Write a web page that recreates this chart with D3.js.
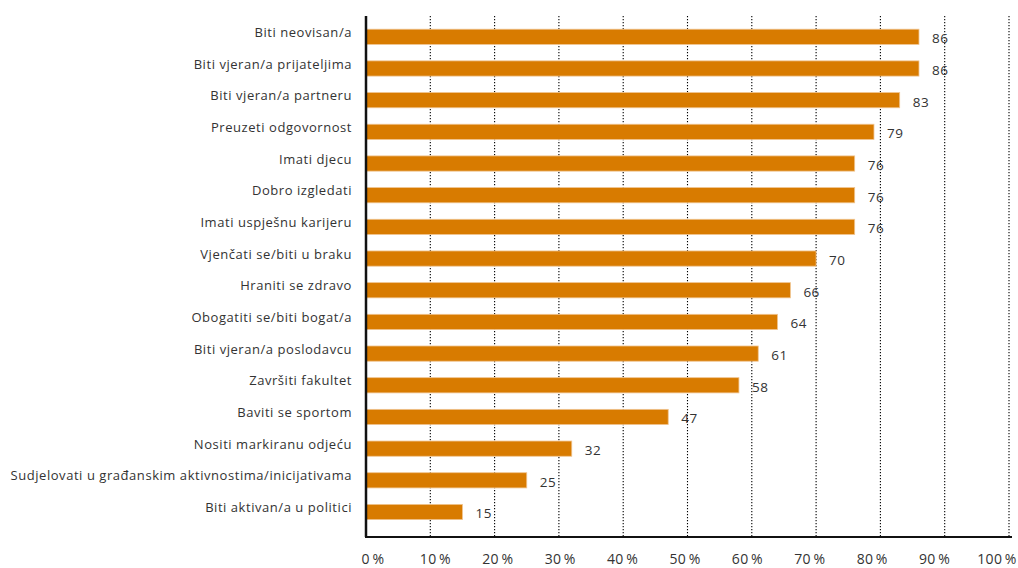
<!DOCTYPE html>
<html>
<head>
<meta charset="utf-8">
<script src="https://cdn.jsdelivr.net/npm/d3@7"></script>
<style>
  body { margin: 0; background: #fff; }
  text { font-family: "Open Sans", sans-serif; fill: #333; }
</style>
</head>
<body>
<svg id="chart" width="1018" height="568"></svg>
<script>
"use strict";

var categories = [
  "Biti neovisan/a",
  "Biti vjeran/a prijateljima",
  "Biti vjeran/a partneru",
  "Preuzeti odgovornost",
  "Imati djecu",
  "Dobro izgledati",
  "Imati uspješnu karijeru",
  "Vjenčati se/biti u braku",
  "Hraniti se zdravo",
  "Obogatiti se/biti bogat/a",
  "Biti vjeran/a poslodavcu",
  "Završiti fakultet",
  "Baviti se sportom",
  "Nositi markiranu odjeću",
  "Sudjelovati u građanskim aktivnostima/inicijativama",
  "Biti aktivan/a u politici"
];
var values = [86, 86, 83, 79, 76, 76, 76, 70, 66, 64, 61, 58, 47, 32, 25, 15];
var tickValues = [0, 10, 20, 30, 40, 50, 60, 70, 80, 90, 100];

var svg = d3.select("#chart");
var config = { left: 366, right: 1009, top: 16, bottom: 537, barColor: "#d87b00" };

var x = d3.scaleLinear().domain([0, 100]).range([config.left, config.right]);
var y = d3.scaleBand().domain(categories).range([29.2, 519.6]).paddingInner(0.52).paddingOuter(0);
// tick labels in the original sit on a slightly narrower spread
var xLabel = d3.scaleLinear().domain([0, 100]).range([373, 997]);

// dotted gridlines
svg.append("g")
  .selectAll("line")
  .data(tickValues.slice(1))
  .join("line")
  .attr("x1", function(d) { return x(d); })
  .attr("x2", function(d) { return x(d); })
  .attr("y1", config.top)
  .attr("y2", config.bottom)
  .attr("stroke", "#000")
  .attr("stroke-width", 1.1)
  .attr("stroke-dasharray", "1.2,1.8");

// bars
svg.append("g")
  .selectAll("rect")
  .data(values)
  .join("rect")
  .attr("x", x(0))
  .attr("y", function(d, i) { return y(categories[i]); })
  .attr("width", function(d) { return x(d) - x(0); })
  .attr("height", y.bandwidth())
  .attr("fill", config.barColor)
  .attr("stroke", "#f0c48f")
  .attr("stroke-width", 0.8);

// value labels
svg.append("g")
  .selectAll("text")
  .data(values)
  .join("text")
  .attr("x", function(d) { return x(d) + 13; })
  .attr("y", function(d, i) { return y(categories[i]) + y.bandwidth() / 2 + 1.5; })
  .attr("dy", "0.36em")
  .style("font-size", "13.5px")
  .style("letter-spacing", "0.5px")
  .text(function(d) { return d; });

// category labels
svg.append("g")
  .selectAll("text")
  .data(categories)
  .join("text")
  .attr("x", 352)
  .attr("y", function(d) { return y(d) + y.bandwidth() / 2 - 4.5; })
  .attr("dy", "0.36em")
  .attr("text-anchor", "end")
  .style("font-size", "13px")
  .style("letter-spacing", "0.55px")
  .text(function(d) { return d; });

// axes
svg.append("line")
  .attr("x1", config.left).attr("x2", config.left)
  .attr("y1", config.top).attr("y2", config.bottom)
  .attr("stroke", "#111").attr("stroke-width", 2.5);
svg.append("line")
  .attr("x1", config.left - 1).attr("x2", 1012)
  .attr("y1", config.bottom).attr("y2", config.bottom)
  .attr("stroke", "#111").attr("stroke-width", 2.2);

// tick labels
svg.append("g")
  .selectAll("text")
  .data(tickValues)
  .join("text")
  .attr("x", function(d) { return xLabel(d); })
  .attr("y", 564)
  .attr("text-anchor", "middle")
  .style("font-size", "14px")
  .style("letter-spacing", "0.3px")
  .text(function(d) { return d + "\u2009%"; });
</script>
</body>
</html>
